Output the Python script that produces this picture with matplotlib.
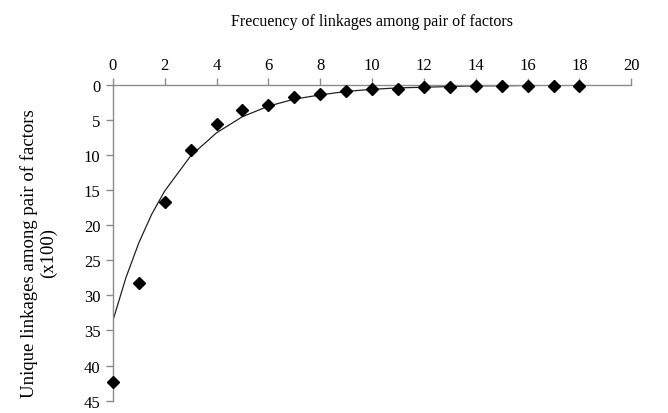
import matplotlib.pyplot as plt


# Observed frequencies (x) and unique linkages (x100, y)
freq = [0, 1, 2, 3, 4, 5, 6, 7, 8, 9, 10, 11, 12, 13, 14, 15, 16, 17, 18]
linkages = [42.3, 28.2, 16.7, 9.2, 5.5, 3.5, 2.8, 1.7, 1.3, 0.8, 0.6,
            0.5, 0.3, 0.2, 0.1, 0.1, 0.1, 0.1, 0.1]

# Exponential trendline
trend_x = [0, 0.5, 1, 1.5, 2, 3, 4, 5, 6, 7, 8, 9, 10, 11, 12, 13, 14, 15, 16, 17, 18]
trend_y = [33.6, 27.5, 22.5, 18.4, 15.1, 10.1, 6.8, 4.5, 3.0, 2.0, 1.4, 0.9,
           0.6, 0.4, 0.3, 0.2, 0.1, 0.1, 0.05, 0.03, 0.02]

x_ticks = list(range(0, 21, 2))
y_ticks = list(range(0, 46, 5))

plt.rcParams["font.family"] = ["Liberation Serif", "DejaVu Serif"]
grey = "#8c8c8c"


def main() -> None:
    fig = plt.figure(figsize=(6.68, 4.14), dpi=100)
    ax = fig.add_axes([0.169, 0.03, 0.776, 0.762])

    ax.plot(trend_x, trend_y, color="#222222", lw=0.9, zorder=2)
    ax.plot(freq, linkages, linestyle="none", marker="D", ms=6,
            color="black", zorder=3, clip_on=False)

    ax.set_xlim(0, 20)
    ax.set_ylim(45, 0)
    ax.set_xticks(x_ticks)
    ax.set_yticks(y_ticks)

    # Axes styling: x axis on top, y axis on left
    ax.xaxis.tick_top()
    ax.xaxis.set_label_position("top")
    for side in ("right", "bottom"):
        ax.spines[side].set_visible(False)
    for side in ("left", "top"):
        ax.spines[side].set_color(grey)
        ax.spines[side].set_linewidth(1.0)
    ax.tick_params(axis="both", direction="out", length=5, width=1.0,
                   color=grey, labelsize=12, pad=4)

    ax.set_xlabel("Frecuency of linkages among pair of factors",
                  fontsize=11.5, labelpad=23)
    ax.set_ylabel("Unique linkages among pair of factors\n(x100)",
                  fontsize=13.5, linespacing=1.15)
    ax.yaxis.set_label_coords(-0.108, 0.47)

    fig.savefig("out.png", dpi=100)


if __name__ == "__main__":
    main()
